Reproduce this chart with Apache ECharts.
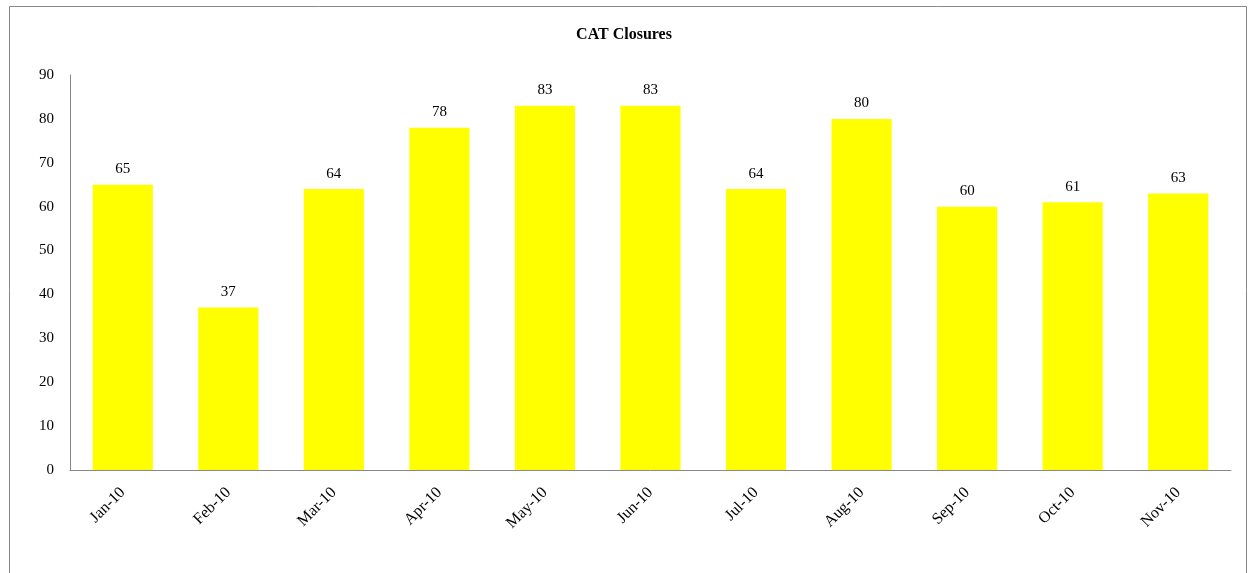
<!DOCTYPE html>
<html>
<head>
<meta charset="utf-8">
<script src="https://cdn.jsdelivr.net/npm/echarts@6/dist/echarts.min.js"></script>
<style>
  html, body { margin: 0; padding: 0; background: #fff; }
  #chart { width: 1248px; height: 573px; }
</style>
</head>
<body>
<div id="chart"></div>
<script>
const months = ['Jan-10', 'Feb-10', 'Mar-10', 'Apr-10', 'May-10', 'Jun-10', 'Jul-10', 'Aug-10', 'Sep-10', 'Oct-10', 'Nov-10'];
const closures = [65, 37, 64, 78, 83, 83, 64, 80, 60, 61, 63];
const yTicks = { min: 0, max: 90, interval: 10 };

const font = '"Liberation Serif", "Times New Roman", serif';
const chart = echarts.init(document.getElementById('chart'));

chart.setOption({
  animation: false,
  textStyle: { fontFamily: font },
  // outer chart frame
  graphic: [{
    type: 'rect',
    shape: { x: 9.5, y: 6.5, width: 1237, height: 580 },
    style: { fill: 'none', stroke: '#888', lineWidth: 1 },
    silent: true
  }],
  title: {
    text: 'CAT Closures',
    left: 'center',
    top: 22,
    textStyle: { fontFamily: font, fontSize: 16, fontWeight: 'bold', color: '#000' }
  },
  grid: { left: 70, right: 17, top: 75, bottom: 103, containLabel: false },
  xAxis: {
    type: 'category',
    data: months,
    axisTick: { show: false },
    axisLine: { lineStyle: { color: '#888', width: 1 } },
    axisLabel: {
      rotate: 45,
      margin: 20,
      fontFamily: font,
      fontSize: 16,
      color: '#000'
    }
  },
  yAxis: {
    type: 'value',
    min: yTicks.min,
    max: yTicks.max,
    interval: yTicks.interval,
    splitLine: { show: false },
    axisTick: { show: false },
    axisLine: { show: true, lineStyle: { color: '#888', width: 1 } },
    axisLabel: { fontFamily: font, fontSize: 15, color: '#000', margin: 16 }
  },
  series: [{
    type: 'bar',
    data: closures,
    barCategoryGap: '43%',
    itemStyle: { color: '#FFFF00' },
    label: {
      show: true,
      position: 'top',
      distance: 8,
      fontFamily: font,
      fontSize: 15,
      color: '#000'
    }
  }]
});
</script>
</body>
</html>
